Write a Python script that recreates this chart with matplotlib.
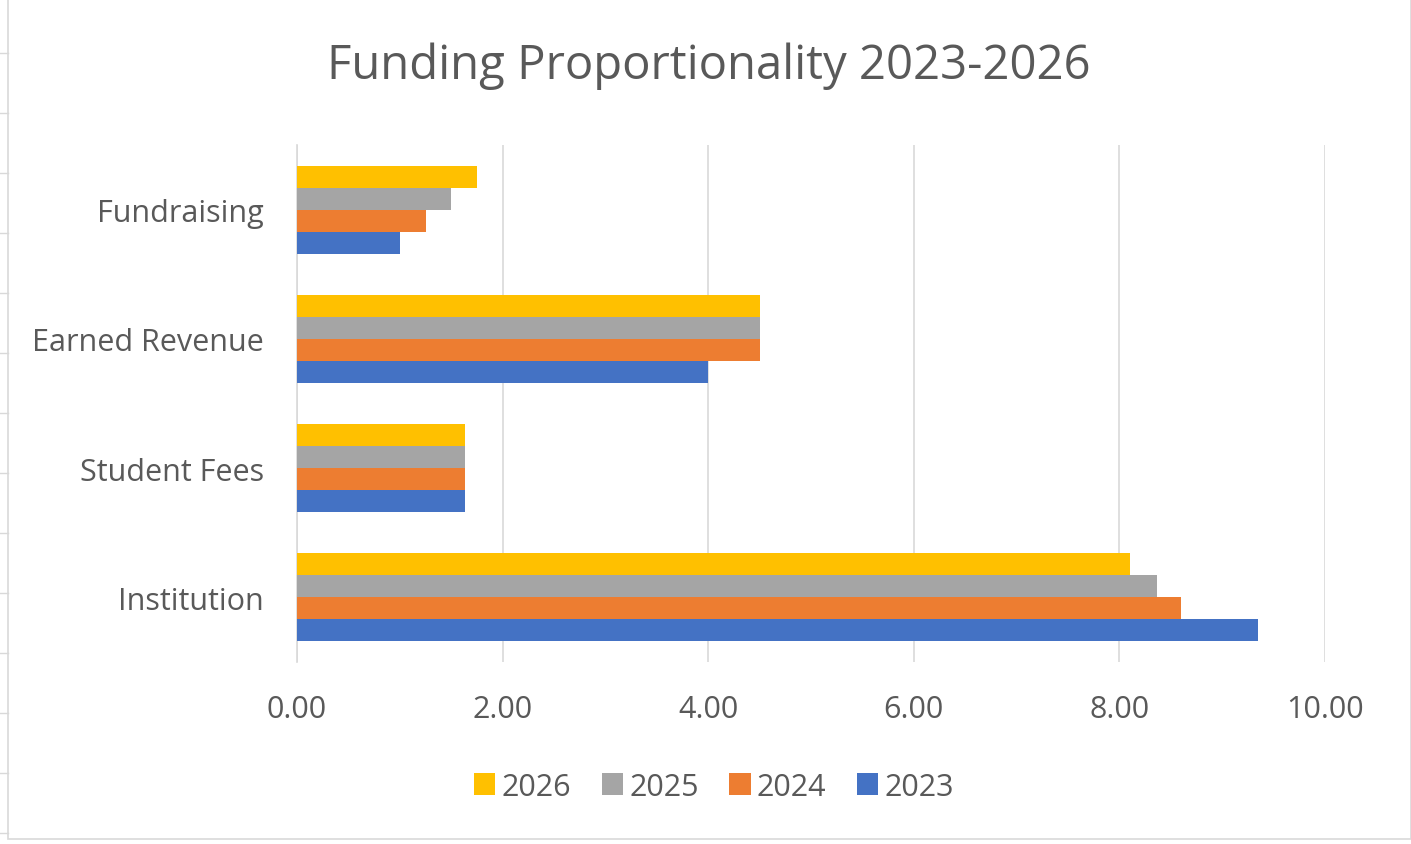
import numpy as np
import matplotlib.pyplot as plt
from matplotlib.patches import Rectangle
from matplotlib.lines import Line2D

plt.rcParams['font.family'] = ['Open Sans', 'DejaVu Sans']

# data
categories = ['Institution', 'Student Fees', 'Earned Revenue', 'Fundraising']
years = ['2023', '2024', '2025', '2026']
vals_2023 = [9.35, 1.63, 4.0, 1.0]
vals_2024 = [8.6, 1.63, 4.5, 1.25]
vals_2025 = [8.37, 1.63, 4.5, 1.5]
vals_2026 = [8.1, 1.63, 4.5, 1.75]
colors = ['#4472C4', '#ED7D31', '#A5A5A5', '#FFC000']

series = [vals_2023, vals_2024, vals_2025, vals_2026]
txt = '#595959'

fig = plt.figure(figsize=(14.11, 8.45), dpi=100)
ax = fig.add_axes([0.2105, 0.2155, 0.7285, 0.6115])

y = np.arange(len(categories))
h = 0.17
bars = []
for i, (vals, c) in enumerate(zip(series, colors)):
    b = ax.barh(y + (i - 1.5) * h, vals, height=h, color=c, zorder=3)
    bars.append(b)

ax.set_xlim(0, 10)
ax.set_ylim(-0.5, 3.5)
ax.set_xticks(np.arange(0, 11, 2))
ax.set_xticklabels([f'{v:.2f}' for v in np.arange(0, 11, 2)])
ax.set_yticks(y)
ax.set_yticklabels(categories, va='center_baseline')
ax.tick_params(axis='both', length=0, labelsize=22, colors=txt)
ax.tick_params(axis='y', pad=24)
ax.tick_params(axis='x', pad=23)
ax.grid(axis='x', color='#D9D9D9', linewidth=1.2, zorder=0)
for s in ['top', 'right', 'bottom']:
    ax.spines[s].set_visible(False)
ax.spines['left'].set_color('#D9D9D9')
ax.spines['left'].set_linewidth(1.2)

fig.suptitle('Funding Proportionality 2023-2026', y=0.95, x=0.502, fontsize=34, color=txt)

leg = fig.legend(bars[::-1], years[::-1], loc='center', bbox_to_anchor=(0.506, 0.068),
                 ncol=4, frameon=False, fontsize=22, handlelength=0.7, handleheight=0.7,
                 handletextpad=0.2, columnspacing=1.0)
for t in leg.get_texts():
    t.set_color(txt)

# chart border and sheet row marks
fig.patches.append(Rectangle((8 / 1411, 5 / 845), 1 - 8 / 1411, 1 - 5 / 845, transform=fig.transFigure,
                             fill=False, edgecolor='#D9D9D9', linewidth=1.2))
for yy in range(54, 845, 60):
    fig.lines.append(Line2D([0, 8 / 1411], [1 - yy / 845] * 2, transform=fig.transFigure,
                            color='#D9D9D9', linewidth=1))

fig.savefig('out.png', dpi=100, facecolor='white')
